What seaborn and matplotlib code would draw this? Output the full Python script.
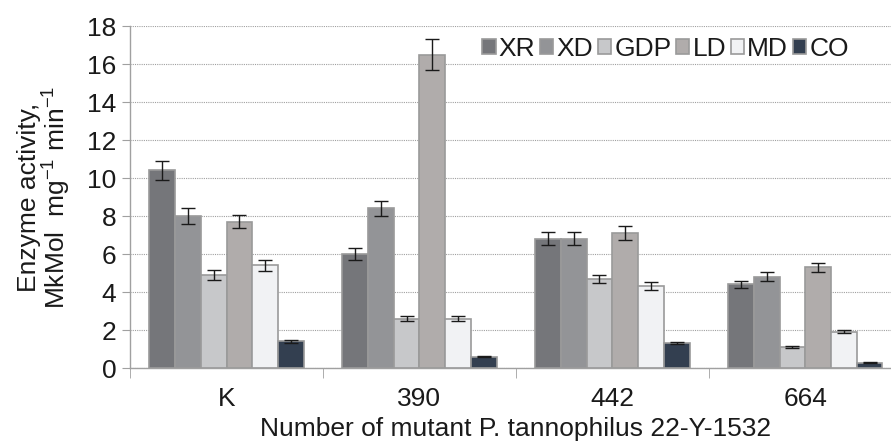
import pandas as pd
import numpy as np
import matplotlib
matplotlib.use("Agg")
import matplotlib.pyplot as plt
import seaborn as sns
from matplotlib.ticker import FixedLocator

groups = ["K", "390", "442", "664"]
enzymes = ["XR", "XD", "GDP", "LD", "MD", "CO"]

xr = [10.4, 6.0, 6.8, 4.4]
xd = [8.0, 8.4, 6.8, 4.8]
gdp = [4.9, 2.6, 4.7, 1.1]
ld = [7.7, 16.5, 7.1, 5.3]
md = [5.4, 2.6, 4.3, 1.9]
co = [1.4, 0.6, 1.3, 0.28]

xr_err = [0.5, 0.3, 0.35, 0.2]
xd_err = [0.4, 0.4, 0.35, 0.24]
gdp_err = [0.25, 0.12, 0.22, 0.04]
ld_err = [0.35, 0.8, 0.35, 0.25]
md_err = [0.28, 0.12, 0.22, 0.08]
co_err = [0.07, 0.03, 0.06, 0.02]

colors = ["#75767a", "#939497", "#c7c8ca", "#b0acab", "#f1f2f4", "#333f50"]

values = [xr, xd, gdp, ld, md, co]
errors = [xr_err, xd_err, gdp_err, ld_err, md_err, co_err]

rows = []
for enz, vals, errs in zip(enzymes, values, errors):
    for g, v, e in zip(groups, vals, errs):
        rows.append({"group": g, "enzyme": enz, "activity": v, "err": e})
df = pd.DataFrame(rows)

sns.set_style("white")
plt.rcParams["font.family"] = ["Liberation Sans", "DejaVu Sans"]
plt.rcParams["mathtext.fontset"] = "custom"
plt.rcParams["mathtext.rm"] = "Liberation Sans"
plt.rcParams["mathtext.default"] = "rm"

fs = 19

fig = plt.figure(figsize=(8.91, 4.45), dpi=100)
ax = fig.add_axes([0.146, 0.173, 0.866, 0.7685])

sns.barplot(data=df, x="group", y="activity", hue="enzyme",
            order=groups, hue_order=enzymes, palette=colors,
            errorbar=None, width=0.8, edgecolor="#9a9a9a", linewidth=1.2,
            saturation=1, ax=ax, zorder=2)

for cont, enz in zip(ax.containers, enzymes):
    sub = df[df["enzyme"] == enz].set_index("group").loc[groups]
    xs = [b.get_x() + b.get_width() / 2 for b in cont]
    ax.errorbar(xs, sub["activity"], yerr=sub["err"], fmt="none",
                ecolor="#1a1a1a", elinewidth=1.0, capsize=5, capthick=1.0,
                zorder=3)

ax.set_ylim(0, 18)
ax.set_yticks(np.arange(0, 19, 2))
ax.set_xlim(-0.5, len(groups) - 0.5)
ax.yaxis.grid(True, linestyle=(0, (1, 1)), color="#a0a0a0", linewidth=0.8)
ax.set_axisbelow(True)

for s in ["top", "right"]:
    ax.spines[s].set_visible(False)
for s in ["left", "bottom"]:
    ax.spines[s].set_color("#a0a0a0")
    ax.spines[s].set_linewidth(1.0)

ax.tick_params(axis="y", length=6, color="#a0a0a0", labelsize=fs, left=True,
               labelcolor="#1a1a1a", pad=4)
ax.tick_params(axis="x", which="major", length=0, labelsize=fs, pad=14,
               labelcolor="#1a1a1a")
ax.xaxis.set_minor_locator(FixedLocator(np.arange(-0.5, len(groups), 1)))
ax.tick_params(axis="x", which="minor", length=7, color="#a0a0a0",
               bottom=True)

ax.set_xlabel("Number of mutant P. tannophilus 22-Y-1532", fontsize=fs,
              color="#1a1a1a", labelpad=4)
ax.set_ylabel("Enzyme activity,\nMkMol  mg$^{-1}$ min$^{-1}$", fontsize=fs,
              color="#1a1a1a", labelpad=10, linespacing=1.0)

leg = ax.legend(loc="upper center", bbox_to_anchor=(0.694, 1.0), ncol=6,
                frameon=False, fontsize=fs, handlelength=0.5,
                handleheight=0.5, handletextpad=0.12, columnspacing=0.18,
                borderaxespad=0)
for txt in leg.get_texts():
    txt.set_color("#1a1a1a")

fig.savefig("out.png", dpi=100)
